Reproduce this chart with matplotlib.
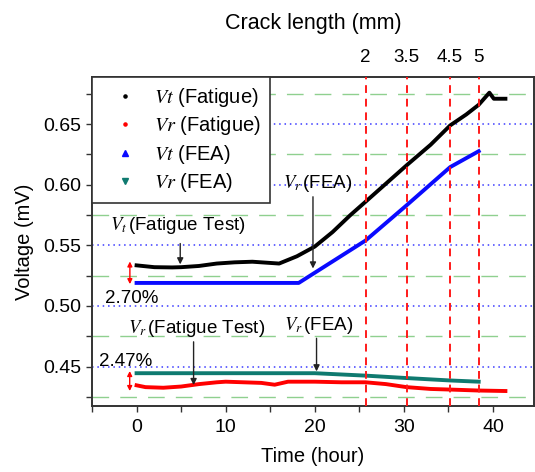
import numpy as np
import matplotlib
matplotlib.use('Agg')
import matplotlib.pyplot as plt
from matplotlib.lines import Line2D

plt.rcParams['font.family'] = ['Liberation Sans', 'DejaVu Sans']
plt.rcParams['mathtext.fontset'] = 'stix'

# Vt (Fatigue) - measured
vt_fat_hour = [0, 2, 4, 5, 7, 9, 11, 13, 15, 16, 17, 18, 19, 20, 22, 24, 25.7, 28, 30.3,
               33, 35.2, 37, 38.4, 39.6, 40.1, 41.4]
vt_fat_volt = [0.5335, 0.532, 0.5318, 0.532, 0.533, 0.535, 0.536, 0.5365, 0.5355, 0.535,
               0.538, 0.541, 0.545, 0.549, 0.561, 0.575, 0.586, 0.601, 0.616, 0.633, 0.649,
               0.658, 0.666, 0.676, 0.671, 0.671]

# Vr (Fatigue) - measured
vr_fat_hour = [0, 1, 3, 5, 7, 9, 10, 12, 14, 15.5, 17, 20, 23, 25.7, 28, 30.3, 33, 35.2,
               38.4, 41.4]
vr_fat_volt = [0.4345, 0.433, 0.4325, 0.4335, 0.4355, 0.437, 0.4375, 0.437, 0.4365, 0.435,
               0.4375, 0.4375, 0.437, 0.437, 0.4355, 0.433, 0.4315, 0.431, 0.4302, 0.4298]

# FEA results
vt_fea_hour = [0, 18.2, 25.7, 30.3, 35.2, 38.4]
vt_fea_volt = [0.519, 0.519, 0.554, 0.583, 0.6146, 0.6277]
vr_fea_hour = [0, 20, 25.7, 30.3, 35.2, 38.4]
vr_fea_volt = [0.4445, 0.4445, 0.4425, 0.4405, 0.4385, 0.4375]

# crack length marks (top axis)
crack_hour = [25.7, 30.3, 35.2, 38.4]
crack_label = ['2', '3.5', '4.5', '5']

fig = plt.figure(figsize=(5.35, 4.72), dpi=100)
ax = fig.add_axes([0.172, 0.140, 0.826, 0.697])

ax.set_xlim(-5, 44.6)
ax.set_ylim(0.4175, 0.689)

# grid lines
for y in [0.425, 0.475, 0.525, 0.575, 0.625, 0.675]:
    ax.axhline(y, color='#8fd08f', lw=1, dashes=(12, 8), zorder=1)
for y in [0.45, 0.50, 0.55, 0.60, 0.65]:
    ax.axhline(y, color='#3a3aff', lw=1.1, dashes=(1, 2.5), zorder=1)
for x in crack_hour:
    ax.axvline(x, color='#ff1a1a', lw=1.4, dashes=(4, 3), zorder=4)

ax.plot(vt_fat_hour, vt_fat_volt, color='black', lw=2.8, zorder=3)
ax.plot(vr_fat_hour, vr_fat_volt, color='#ff0000', lw=2.8, zorder=3)
ax.plot(vt_fea_hour, vt_fea_volt, color='#0a0aff', lw=2.8, zorder=3)
ax.plot(vr_fea_hour, vr_fea_volt, color='#0f7a70', lw=2.8, zorder=3)

# annotations
fs = 14
afs = 13.5
arr = dict(arrowstyle='-|>', color='#222222', lw=1, mutation_scale=9, shrinkA=0, shrinkB=0)
red_arr = dict(arrowstyle='<|-|>', color='#ff0000', lw=1, mutation_scale=7, shrinkA=0, shrinkB=0)

ax.text(-3.0, 0.5663, r'$V_t\,$(Fatigue Test)', fontsize=afs, va='center', ha='left', zorder=5)
ax.annotate('', xy=(4.9, 0.5343), xytext=(4.9, 0.5515), arrowprops=arr, zorder=5)
ax.annotate('', xy=(-0.75, 0.518), xytext=(-0.75, 0.5367), arrowprops=red_arr, zorder=5)
ax.text(-3.5, 0.5063, '2.70%', fontsize=afs, va='center', ha='left', zorder=5)

ax.text(16.4, 0.6008, r'$V_r\,$(FEA)', fontsize=afs, va='center', ha='left', zorder=5)
ax.annotate('', xy=(19.8, 0.5309), xytext=(19.8, 0.5901), arrowprops=arr, zorder=5)

ax.text(-0.95, 0.4816, r'$V_r\,$(Fatigue Test)', fontsize=afs, va='center', ha='left', zorder=5)
ax.annotate('', xy=(6.4, 0.4347), xytext=(6.4, 0.4704), arrowprops=arr, zorder=5)

ax.text(16.6, 0.484, r'$V_r\,$(FEA)', fontsize=afs, va='center', ha='left', zorder=5)
ax.annotate('', xy=(20.2, 0.446), xytext=(20.2, 0.4733), arrowprops=arr, zorder=5)

ax.text(-4.2, 0.4544, '2.47%', fontsize=afs, va='center', ha='left', zorder=5)
ax.annotate('', xy=(-0.77, 0.4298), xytext=(-0.77, 0.4463), arrowprops=red_arr, zorder=5)

# ticks and spines
ax.set_xticks([0, 10, 20, 30, 40])
ax.set_xticks([-5, 5, 15, 25, 35], minor=True)
ax.set_yticks([0.45, 0.50, 0.55, 0.60, 0.65])
ax.set_yticks([0.425, 0.475, 0.525, 0.575, 0.625, 0.675], minor=True)
ax.set_yticklabels(['0.45', '0.50', '0.55', '0.60', '0.65'])
ax.tick_params(axis='both', which='both', labelsize=fs, length=4.5, width=1,
               color='#333333', direction='out')
ax.tick_params(axis='x', which='both', top=True, pad=5)
ax.tick_params(axis='y', which='both', right=True)
for s in ax.spines.values():
    s.set_linewidth(1.4)
    s.set_color('#333333')
ax.set_xlabel('Time (hour)', fontsize=fs + 0.5, labelpad=8)
ax.set_ylabel('Voltage (mV)', fontsize=fs + 0.5, labelpad=6)

ax2 = ax.twiny()
ax2.set_xlim(ax.get_xlim())
ax2.set_xticks(crack_hour, labels=crack_label)
ax2.tick_params(axis='x', length=0, labelsize=13.5, pad=8)
ax2.set_xlabel('Crack length (mm)', fontsize=15.5, labelpad=14)
for s in ax2.spines.values():
    s.set_visible(False)

handles = [
    Line2D([], [], ls='none', marker='.', color='black', markersize=4.5),
    Line2D([], [], ls='none', marker='.', color='#ff0000', markersize=4.5),
    Line2D([], [], ls='none', marker='^', color='#0a0aff', markersize=4),
    Line2D([], [], ls='none', marker='v', color='#0f7a70', markersize=4),
]
labels = [r'$\mathit{Vt}$ (Fatigue)', r'$\mathit{Vr}$ (Fatigue)',
          r'$\mathit{Vt}$ (FEA)', r'$\mathit{Vr}$ (FEA)']
leg = ax.legend(handles, labels, loc='upper left', bbox_to_anchor=(0, 1), borderaxespad=0,
                fontsize=14.5, frameon=True, fancybox=False, framealpha=1,
                handlelength=2.4, handletextpad=0.25, labelspacing=0.27, borderpad=0.45)
leg.get_frame().set_edgecolor('#333333')
leg.get_frame().set_linewidth(1.2)
leg.set_zorder(10)

fig.savefig('out.png', dpi=100)
